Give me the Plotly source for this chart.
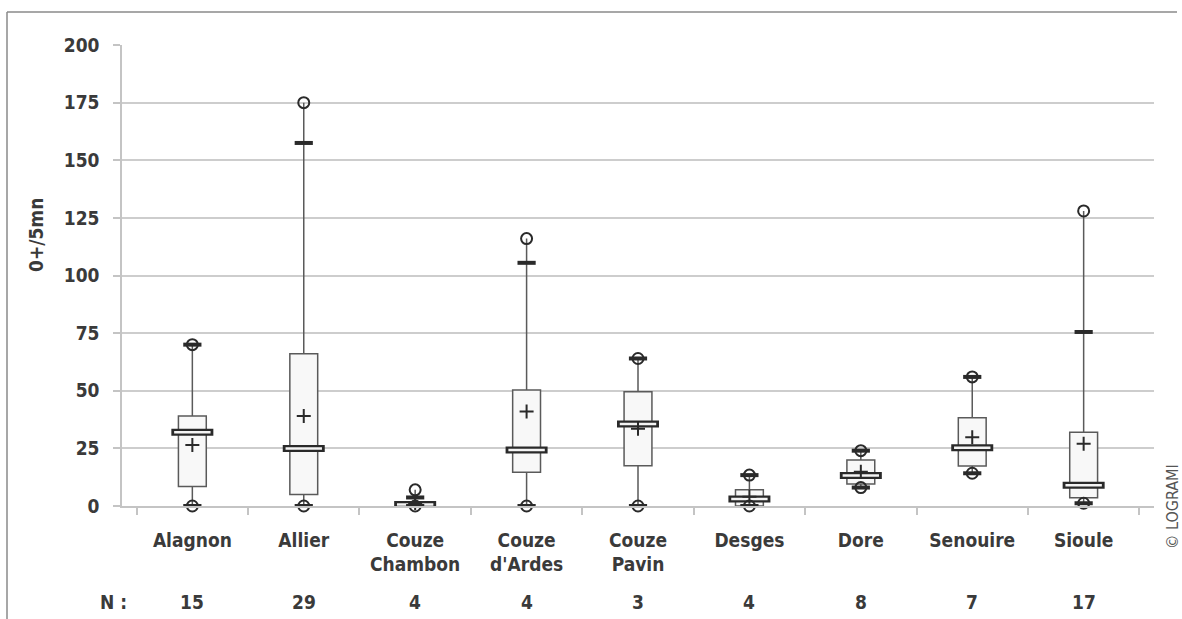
import plotly.graph_objects as go

categories = ["Alagnon", "Allier", "Couze Chambon", "Couze d'Ardes", "Couze Pavin",
              "Desges", "Dore", "Senouire", "Sioule"]
tick_labels = ["Alagnon", "Allier", "Couze<br>Chambon", "Couze<br>d'Ardes", "Couze<br>Pavin",
               "Desges", "Dore", "Senouire", "Sioule"]
q1 = [8.5, 5, 0, 14.6, 17.5, 0, 9.5, 17.4, 3.6]
median = [32, 25, 0.6, 24.3, 35.6, 3, 13.2, 25.3, 9]
q3 = [39, 66, 1.5, 50.3, 49.6, 7, 20, 38.3, 32]
mean = [26.5, 39, 1.3, 41, 33.5, 4, 14.9, 29.8, 27]
minimum = [0, 0, 0, 0, 0, 0, 8, 14.2, 1.2]
maximum = [70, 175, 7, 116, 64, 13.4, 24, 56, 128]
upper_limit = [70, 157.5, 3.7, 105.5, 64, 13.4, 24, 56, 75.5]
n_obs = [15, 29, 4, 4, 3, 4, 8, 7, 17]

FONT = "DejaVu Sans Condensed, Liberation Sans Narrow, DejaVu Sans"
TXT = "#3a3a3a"
DARK = "#2a2a2a"
LINE = "#5a5a5a"
GRID = "#cdcdcd"
FS = 19

# plot area in pixels (for converting text positions into paper coords)
L, R, T, B = 122, 1154, 45, 506
def px(xp):
    return (xp - L) / (R - L)
def py(yp):
    return (B - yp) / (B - T)

fig = go.Figure()

fig.add_trace(go.Box(
    x=categories, q1=q1, median=median, q3=q3,
    lowerfence=minimum, upperfence=maximum,
    width=0.25, whiskerwidth=0, boxpoints=False,
    fillcolor="#f8f8f8", line=dict(color=LINE, width=1.5),
    showlegend=False, hoverinfo="skip",
))

# median: hollow thick bar
fig.add_trace(go.Scatter(x=categories, y=median, mode="markers", showlegend=False, hoverinfo="skip",
                         cliponaxis=False,
                         marker=dict(symbol="line-ew", size=30, line=dict(color=DARK, width=7))))
fig.add_trace(go.Scatter(x=categories, y=median, mode="markers", showlegend=False, hoverinfo="skip",
                         cliponaxis=False,
                         marker=dict(symbol="line-ew", size=26, line=dict(color="#f4f4f4", width=2.5))))

# mean
fig.add_trace(go.Scatter(x=categories, y=mean, mode="markers", showlegend=False, hoverinfo="skip",
                         cliponaxis=False,
                         marker=dict(symbol="cross-thin", size=10, line=dict(color=DARK, width=2))))

# min / max circles
fig.add_trace(go.Scatter(x=categories + categories, y=minimum + maximum, mode="markers",
                         showlegend=False, hoverinfo="skip", cliponaxis=False,
                         marker=dict(symbol="circle-open", size=11, color=DARK, line=dict(color=DARK, width=2))))

# whisker limit dashes
fig.add_trace(go.Scatter(x=categories + categories, y=minimum + upper_limit, mode="markers",
                         showlegend=False, hoverinfo="skip", cliponaxis=False,
                         marker=dict(symbol="line-ew", size=13, line=dict(color=DARK, width=4))))

tf = dict(family=FONT, size=FS, color=TXT, weight="bold")
annotations = []
annotations.append(dict(text="0+/5mn", xref="paper", yref="paper", x=px(36), y=py(235),
                        xanchor="center", yanchor="middle",
                        textangle=-90, showarrow=False, font=tf))
annotations.append(dict(text="N :", xref="paper", yref="paper", x=px(113), y=py(602),
                        xanchor="center", yanchor="middle", showarrow=False, font=tf))
for c, n in zip(categories, n_obs):
    annotations.append(dict(text=str(n), xref="x", yref="paper", x=c, y=py(602),
                            xanchor="center", yanchor="middle", showarrow=False, font=tf))
annotations.append(dict(text="© LOGRAMI", xref="paper", yref="paper", x=px(1172), y=py(507),
                        xanchor="center", yanchor="middle",
                        textangle=-90, showarrow=False, font=dict(family=FONT, size=16, color="#555555")))

shapes = [
    dict(type="line", xref="paper", yref="paper", x0=px(7), x1=px(7), y0=py(12), y1=py(640),
         line=dict(color="#8a8a8a", width=1.5)),
    dict(type="line", xref="paper", yref="paper", x0=px(7), x1=px(1177), y0=py(12), y1=py(12),
         line=dict(color="#8a8a8a", width=1.5)),
]

fig.update_layout(
    width=1182, height=619,
    margin=dict(l=L, r=1182 - R, t=T, b=619 - B),
    paper_bgcolor="white", plot_bgcolor="white",
    font=dict(family=FONT, size=FS, color=TXT),
    annotations=annotations, shapes=shapes,
    xaxis=dict(type="category", categoryarray=categories, tickvals=categories, ticktext=tick_labels,
               tickson="boundaries", ticks="outside", ticklen=7, tickwidth=1.5, tickcolor="#c4c4c4",
               showline=True, linecolor="#c4c4c4", linewidth=1.5, showgrid=False,
               tickfont=tf, ticklabelstandoff=16),
    yaxis=dict(range=[0, 200], dtick=25, tick0=0, showgrid=True, gridcolor=GRID, gridwidth=1.5,
               zeroline=False, showline=True, linecolor="#c4c4c4", linewidth=1.5,
               ticks="outside", ticklen=7, tickwidth=1.5, tickcolor="#c4c4c4",
               tickfont=tf, ticklabelstandoff=10),
)

fig.write_html("out.html", config={"displayModeBar": False},
               post_script="document.body.style.margin='0px';")
